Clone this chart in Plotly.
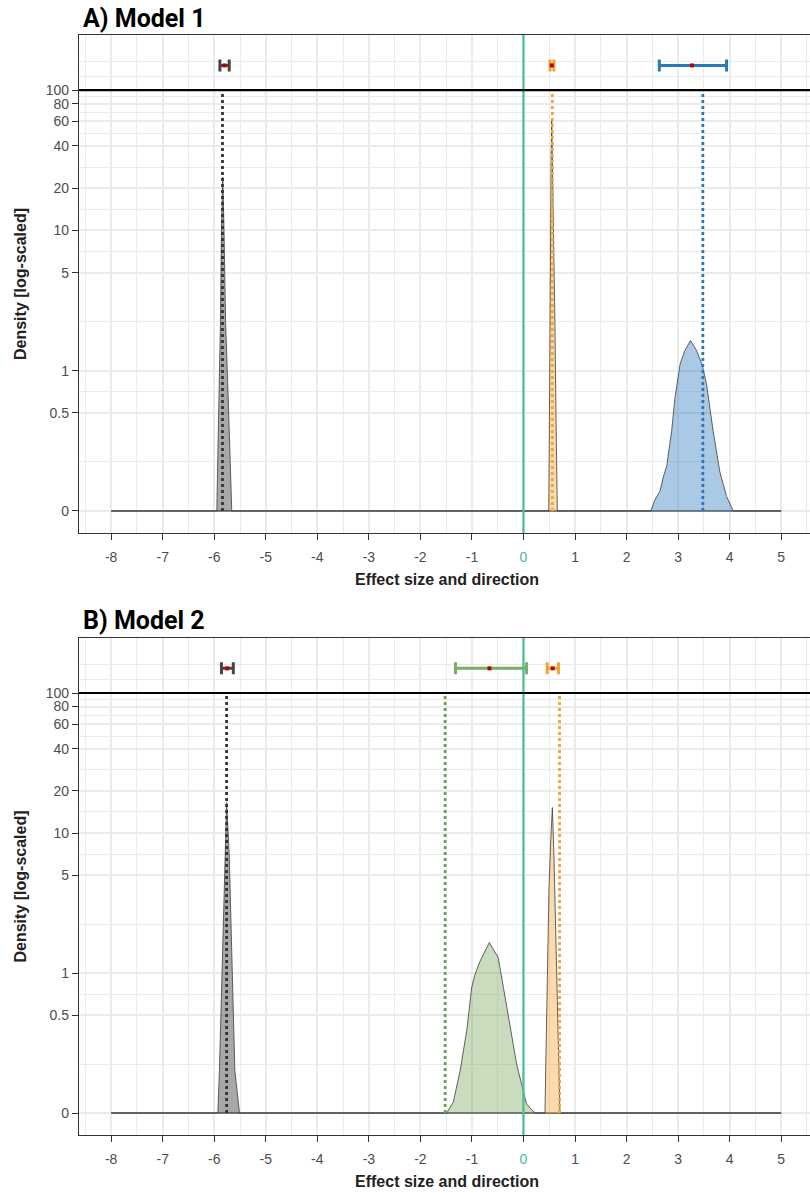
import numpy as np
import plotly.graph_objects as go

# ---------------- data ----------------
FLOOR = 0.1          # density floor, labelled "0" on the log axis
CI_LEVEL = 150       # height at which the interval summaries are drawn
REF_LINE = 100       # black horizontal reference line

# Panel A (Model 1) densities
a_grey_x = [-8, -5.95, -5.93, -5.90, -5.88, -5.86, -5.835, -5.81, -5.78, -5.74, -5.70, -5.66, 5]
a_grey_y = [0.1, 0.1, 0.25, 0.85, 2.2, 10, 24, 10, 2.2, 0.85, 0.25, 0.1, 0.1]

a_orange_x = [-8, 0.49, 0.50, 0.51, 0.52, 0.535, 0.548, 0.56, 0.575, 0.59, 0.61, 0.625, 0.64, 0.656, 5]
a_orange_y = [0.1, 0.1, 0.3, 2, 8, 30, 63, 35, 12, 5, 2.2, 0.7, 0.3, 0.1, 0.1]

a_blue_x = [-8, 2.47, 2.55, 2.65, 2.71, 2.78, 2.875, 2.94, 3.04, 3.13, 3.24, 3.36, 3.46, 3.55, 3.68, 3.81, 3.94, 4.07, 5]
a_blue_y = [0.1, 0.1, 0.12, 0.139, 0.173, 0.21, 0.373, 0.645, 1.12, 1.39, 1.64, 1.39, 1.12, 0.81, 0.37, 0.19, 0.127, 0.1, 0.1]

# Panel B (Model 2) densities
b_grey_x = [-8, -5.93, -5.90, -5.86, -5.82, -5.79, -5.76, -5.71, -5.68, -5.64, -5.60, -5.51, 5]
b_grey_y = [0.1, 0.1, 0.2, 0.79, 2.6, 7.1, 16.5, 7.1, 2.64, 0.79, 0.2, 0.1, 0.1]

b_green_x = [-8, -1.49, -1.36, -1.23, -1.10, -1.005, -0.94, -0.84, -0.663, -0.49, -0.39, -0.26, -0.13, -0.035, 0.06, 0.22, 5]
b_green_y = [0.1, 0.1, 0.12, 0.2, 0.39, 0.79, 0.98, 1.22, 1.65, 1.29, 0.79, 0.41, 0.22, 0.16, 0.116, 0.1, 0.1]

b_orange_x = [-8, 0.417, 0.437, 0.46, 0.495, 0.53, 0.56, 0.59, 0.63, 0.67, 0.708, 5]
b_orange_y = [0.1, 0.1, 0.27, 0.79, 4.1, 9, 15.2, 7.1, 1.37, 0.27, 0.1, 0.1]

# dotted vertical markers (x positions)
a_dotted = {"grey": -5.84, "orange": 0.56, "blue": 3.48}
b_dotted = {"grey": -5.76, "green": -1.52, "orange": 0.70}

# interval summaries: centre, low, high
a_ci = {"grey": (-5.80, -5.89, -5.71), "orange": (0.55, 0.515, 0.59), "blue": (3.27, 2.635, 3.94)}
b_ci = {"grey": (-5.75, -5.86, -5.63), "green": (-0.66, -1.32, 0.06), "orange": (0.567, 0.46, 0.68)}

x_ticks = list(range(-8, 6))
y_ticks = [0.1, 0.5, 1, 5, 10, 20, 40, 60, 80, 100]
y_ticktext = ["0", "0.5", "1", "5", "10", "20", "40", "60", "80", "100"]

# ---------------- styles ----------------
FILL = {"grey": "rgba(110,110,110,0.6)", "orange": "rgba(245,170,60,0.42)",
        "blue": "rgba(40,120,190,0.40)", "green": "rgba(110,160,80,0.37)"}
LINE = {"grey": "#333333", "orange": "#F2A535", "blue": "#2A78BC", "green": "#6E9F58"}
ERR = {"grey": "#454545", "orange": "#F2A535", "blue": "#2A78BC", "green": "#7AAD66"}
ZERO_COL = "#47C095"
GRID = "#EBEBEB"
W, H = 810, 1193

fig = go.Figure()


def add_panel(curves, dotted, ci, xa, ya):
    for name, (xs, ys) in curves.items():
        fig.add_trace(go.Scatter(x=xs, y=ys, mode="lines", fill="toself",
                                 fillcolor=FILL[name],
                                 line=dict(color="#3C3C3C", width=0.8),
                                 xaxis=xa, yaxis=ya, showlegend=False, hoverinfo="skip"))
    for name, xv in dotted.items():
        fig.add_trace(go.Scatter(x=[xv, xv], y=[FLOOR, REF_LINE], mode="lines",
                                 line=dict(color=LINE[name], width=2.8, dash="dot"),
                                 xaxis=xa, yaxis=ya, showlegend=False, hoverinfo="skip"))
    for name, (c, lo, hi) in ci.items():
        fig.add_trace(go.Scatter(x=[c], y=[CI_LEVEL], mode="markers",
                                 marker=dict(symbol="square", size=4, color="#C00000"),
                                 error_x=dict(type="data", symmetric=False, array=[hi - c],
                                              arrayminus=[c - lo], color=ERR[name],
                                              thickness=3, width=6),
                                 xaxis=xa, yaxis=ya, showlegend=False, hoverinfo="skip"))


add_panel({"grey": (a_grey_x, a_grey_y), "orange": (a_orange_x, a_orange_y),
           "blue": (a_blue_x, a_blue_y)}, a_dotted, a_ci, "x", "y")
add_panel({"grey": (b_grey_x, b_grey_y), "green": (b_green_x, b_green_y),
           "orange": (b_orange_x, b_orange_y)}, b_dotted, b_ci, "x2", "y2")

# panel geometry (pixels)
left_px = 79
panels = [(35, 533), (638, 1135)]
x_range = [-8.624, 5.559]
y_range = [-1.157, 2.393]

minor_y = [float(np.sqrt(a * b)) for a, b in zip(y_ticks[:-1], y_ticks[1:])] + [124.5, 159]

x_ticktext = [f'<span style="color:{ZERO_COL}">0</span>' if v == 0 else str(v) for v in x_ticks]

tickfont = dict(family="Liberation Sans, Arial, sans-serif", size=14, color="#4D4D4D")

for i, (top, bot) in enumerate(panels):
    sfx = "" if i == 0 else "2"
    xa = dict(domain=[left_px / W, 1], range=x_range, anchor="y" + sfx,
              tickmode="array", tickvals=x_ticks, ticktext=x_ticktext,
              showline=True, linecolor="#333333", linewidth=1.4, mirror=True,
              ticks="outside", ticklen=6, tickwidth=1.4, tickcolor="#333333",
              ticklabelstandoff=5,
              showgrid=True, gridcolor=GRID, gridwidth=1.6, zeroline=False,
              minor=dict(dtick=0.5, tick0=0, showgrid=True, gridcolor=GRID, gridwidth=1, ticks=""),
              tickfont=tickfont, fixedrange=True)
    ya = dict(domain=[1 - bot / H, 1 - top / H], type="log", range=y_range, anchor="x" + sfx,
              tickmode="array", tickvals=y_ticks, ticktext=y_ticktext,
              showline=True, linecolor="#333333", linewidth=1.4, mirror=False,
              ticks="outside", ticklen=6, tickwidth=1.4, tickcolor="#333333",
              showgrid=True, gridcolor=GRID, gridwidth=1.6, zeroline=False,
              minor=dict(tickmode="array", tickvals=minor_y, showgrid=True, gridcolor=GRID,
                         gridwidth=1, ticks=""),
              tickfont=tickfont, fixedrange=True)
    fig.update_layout(**{"xaxis" + sfx: xa, "yaxis" + sfx: ya})

    # zero line and reference line
    fig.add_shape(type="line", xref="x" + sfx, yref=f"y{sfx} domain", x0=0, x1=0, y0=0, y1=1,
                  line=dict(color=ZERO_COL, width=2.2), layer="above")
    fig.add_shape(type="line", xref=f"x{sfx} domain", yref="y" + sfx, x0=0, x1=1,
                  y0=REF_LINE, y1=REF_LINE, line=dict(color="black", width=2.2), layer="above")

titles = ["A) Model 1", "B) Model 2"]
title_y = [18, 620]
ann = []
for i, (top, bot) in enumerate(panels):
    ann.append(dict(text=f"<b>{titles[i]}</b>", x=81 / W, y=1 - title_y[i] / H, xref="paper", yref="paper",
                    xanchor="left", yanchor="middle", showarrow=False,
                    font=dict(family="Roboto, Liberation Sans, Arial", size=25, color="black")))
    ann.append(dict(text="<b>Effect size and direction</b>", x=447 / W, y=1 - (bot + 46) / H,
                    xref="paper", yref="paper", xanchor="center", yanchor="middle", showarrow=False,
                    font=dict(family="Liberation Sans, Arial", size=16, color="#222222")))
    ann.append(dict(text="<b>Density [log-scaled]</b>", x=20 / W, y=1 - ((top + bot) / 2) / H,
                    xref="paper", yref="paper", xanchor="center", yanchor="middle", showarrow=False,
                    textangle=-90,
                    font=dict(family="Liberation Sans, Arial", size=16, color="#222222")))

fig.update_layout(width=W, height=H, margin=dict(l=0, r=0, t=0, b=0),
                  paper_bgcolor="white", plot_bgcolor="white", annotations=ann,
                  showlegend=False)

fig.write_html("out.html")
